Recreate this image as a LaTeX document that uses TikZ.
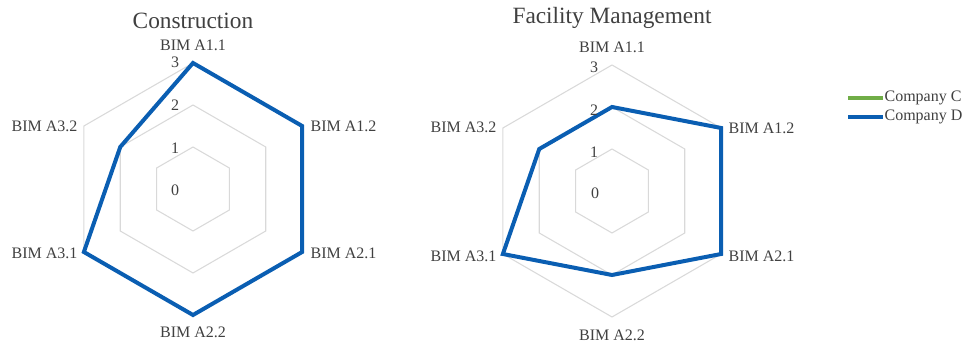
\documentclass[tikz,border=0pt]{standalone}
\usepackage{fontspec}
\setmainfont{Liberation Serif}
\definecolor{gridgray}{RGB}{217,217,217}
\definecolor{txtgray}{RGB}{64,64,64}
\definecolor{compD}{RGB}{10,94,178}
\definecolor{compC}{RGB}{112,173,71}

\begin{document}
\begin{tikzpicture}[x=0.75pt,y=0.75pt,
  gridring/.style={draw=gridgray,line width=0.8pt},
  series/.style={draw=compD,line width=3pt,line join=miter},
  lbl/.style={text=txtgray,font=\fontsize{12}{14}\selectfont,inner sep=1pt},
  axisnum/.style={text=txtgray,font=\fontsize{12}{14}\selectfont,inner sep=0pt},
  charttitle/.style={text=txtgray,font=\fontsize{17.5}{20}\selectfont}]
\useasboundingbox (0,0) rectangle (967,345);

% Construction
\begin{scope}[shift={(193,156)}]
\foreach \r in {42,84,126}
  \draw[gridring] (90:\r) -- (30:\r) -- (-30:\r) -- (-90:\r) -- (-150:\r) -- (150:\r) -- cycle;

\draw[series] (90:126) -- (30:126) -- (-30:126) -- (-90:126) -- (-150:126) -- (150:84) -- cycle;

\node[charttitle] (t1) at (0,168) {Construction};

\node[lbl] (c11) at (0,144) {BIM A1.1};
\node[lbl,anchor=west] (c12) at (116,63) {BIM A1.2};
\node[lbl,anchor=west] (c21) at (116,-64) {BIM A2.1};
\node[lbl] (c22) at (0,-143) {BIM A2.2};
\node[lbl,anchor=east] (c31) at (-114,-64) {BIM A3.1};
\node[lbl,anchor=east] (c32) at (-114,63) {BIM A3.2};

\node[axisnum] (cn3) at (-18,127) {3};
\node[axisnum] (cn2) at (-18,84) {2};
\node[axisnum] (cn1) at (-18,41) {1};
\node[axisnum] (cn0) at (-18,-1) {0};
\end{scope}

% Facility Management
\begin{scope}[shift={(612,154)}]
\foreach \r in {42,84,126}
  \draw[gridring] (90:\r) -- (30:\r) -- (-30:\r) -- (-90:\r) -- (-150:\r) -- (150:\r) -- cycle;

\draw[series] (90:84) -- (30:126) -- (-30:126) -- (-90:84) -- (-150:126) -- (150:84) -- cycle;

\node[charttitle] (t2) at (0,173) {Facility Management};

\node[lbl] (f11) at (0,144) {BIM A1.1};
\node[lbl,anchor=west] (f12) at (115,63) {BIM A1.2};
\node[lbl,anchor=west] (f21) at (115,-65) {BIM A2.1};
\node[lbl] (f22) at (0,-144) {BIM A2.2};
\node[lbl,anchor=east] (f31) at (-114,-65) {BIM A3.1};
\node[lbl,anchor=east] (f32) at (-114,64) {BIM A3.2};

\node[axisnum] (fn3) at (-18,124) {3};
\node[axisnum] (fn2) at (-18,81) {2};
\node[axisnum] (fn1) at (-18,39) {1};
\node[axisnum] (fn0) at (-17,-2) {0};
\end{scope}

% legend
\coordinate (lc1) at (848,247);
\coordinate (lc2) at (883,247);
\coordinate (ld1) at (848,228);
\coordinate (ld2) at (883,228);
\draw[compC,line width=2.6pt] (lc1) -- (lc2);
\draw[compD,line width=2.6pt] (ld1) -- (ld2);
\node[lbl,anchor=west] (legC) at (lc2) {Company C};
\node[lbl,anchor=west] (legD) at (ld2) {Company D};

\end{tikzpicture}
\end{document}
